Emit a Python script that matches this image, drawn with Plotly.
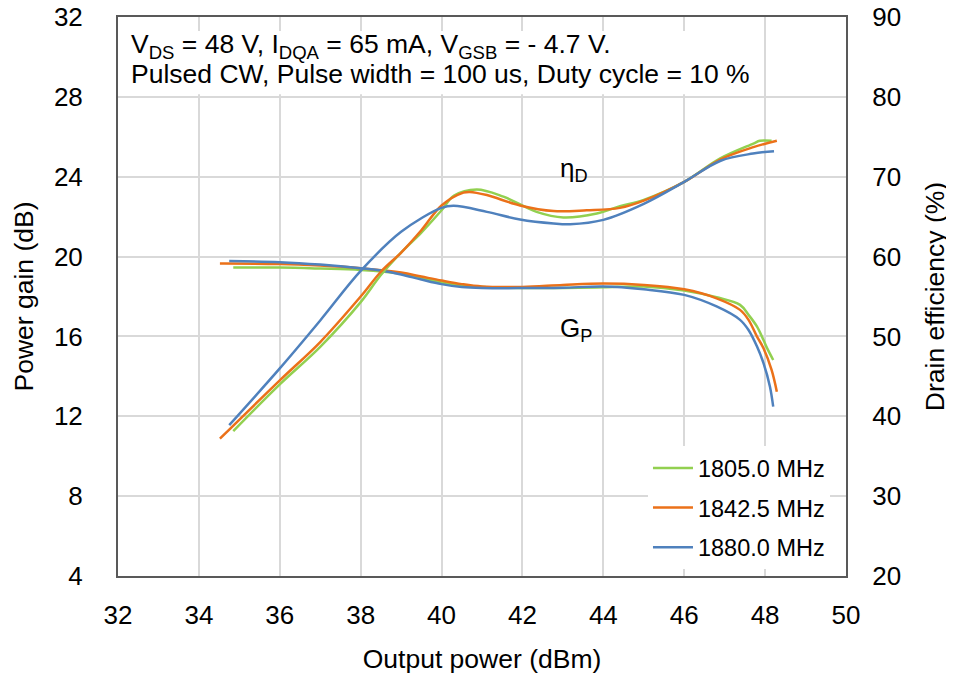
import plotly.graph_objects as go

# ---------------- data ----------------
freqs = ["1805.0 MHz", "1842.5 MHz", "1880.0 MHz"]
colors = ["#92D050", "#EB7119", "#4F81BD"]

# Power gain (dB) vs output power (dBm)
gain_x_1805 = [34.85, 36, 37, 38, 39, 39.5, 40, 40.5, 41, 42, 43, 44, 45, 46, 46.8, 47.38, 47.59, 47.8, 47.96, 48.04, 48.2]
gain_y_1805 = [19.45, 19.45, 19.4, 19.33, 19.15, 18.95, 18.7, 18.55, 18.47, 18.43, 18.43, 18.46, 18.5, 18.3, 17.96, 17.58, 17.08, 16.49, 15.82, 15.45, 14.82]

gain_x_1842 = [34.52, 36, 37, 38, 39, 39.5, 40, 40.5, 41, 42, 43, 44, 45, 46, 46.8, 47.38, 47.59, 47.8, 47.96, 48.16, 48.29]
gain_y_1842 = [19.65, 19.63, 19.55, 19.42, 19.2, 19.0, 18.8, 18.62, 18.5, 18.48, 18.58, 18.65, 18.58, 18.36, 17.91, 17.33, 16.83, 15.99, 15.41, 14.32, 13.23]

gain_x_1880 = [34.75, 36, 37, 38, 38.5, 39, 39.5, 40, 40.5, 41, 42, 43, 44, 45, 46, 46.8, 47.38, 47.59, 47.8, 47.96, 48.12, 48.2]
gain_y_1880 = [19.78, 19.72, 19.6, 19.42, 19.3, 19.1, 18.85, 18.62, 18.48, 18.43, 18.42, 18.44, 18.5, 18.36, 18.08, 17.5, 16.83, 16.32, 15.49, 14.66, 13.48, 12.48]

# Drain efficiency (%) vs output power (dBm)
eff_x_1805 = [34.85, 36, 37, 38, 38.5, 39, 39.5, 40, 40.3, 40.87, 41.53, 42.35, 43.01, 43.84, 44.41, 45, 46, 46.89, 47.71, 47.87, 48.16]
eff_y_1805 = [38.15, 44.0, 48.7, 54.3, 57.7, 60.5, 63.0, 65.8, 67.6, 68.4, 67.5, 65.6, 64.9, 65.4, 66.3, 67.1, 69.35, 72.3, 74.15, 74.5, 74.5]

eff_x_1842 = [34.52, 36, 37, 38, 38.5, 39, 39.5, 40, 40.54, 40.7, 41.12, 41.94, 42.77, 43.59, 44.41, 45, 46, 46.89, 47.71, 48.29]
eff_y_1842 = [37.2, 44.5, 49.3, 55.0, 58.1, 60.5, 63.3, 66.4, 68.0, 68.1, 67.7, 66.4, 65.7, 65.8, 66.1, 67.0, 69.35, 72.15, 73.7, 74.5]

eff_x_1880 = [34.75, 36, 37, 38, 39, 40, 40.3, 41.12, 41.94, 42.77, 43.18, 44.0, 45, 46, 46.9, 47.7, 48.22]
eff_y_1880 = [38.9, 46.0, 52.0, 58.2, 63.1, 66.1, 66.35, 65.6, 64.64, 64.14, 64.05, 64.6, 66.6, 69.35, 72.0, 72.9, 73.2]

x_ticks = [32, 34, 36, 38, 40, 42, 44, 46, 48, 50]
gain_ticks = [4, 8, 12, 16, 20, 24, 28, 32]
eff_ticks = [20, 30, 40, 50, 60, 70, 80, 90]

note_line1 = "V<sub>DS</sub> = 48 V, I<sub>DQA</sub> = 65 mA, V<sub>GSB</sub> = - 4.7 V."
note_line2 = "Pulsed CW, Pulse width = 100 us, Duty cycle = 10 %"

# ---------------- figure ----------------
FONT = "Arial, 'Liberation Sans', sans-serif"
fig = go.Figure()

gains = [(gain_x_1805, gain_y_1805), (gain_x_1842, gain_y_1842), (gain_x_1880, gain_y_1880)]
effs = [(eff_x_1805, eff_y_1805), (eff_x_1842, eff_y_1842), (eff_x_1880, eff_y_1880)]

for name, col, (gx, gy) in zip(freqs, colors, gains):
    fig.add_trace(go.Scatter(x=gx, y=gy, mode="lines", name=name, legendgroup=name,
                             line=dict(color=col, width=2.5, shape="spline", smoothing=1.0),
                             yaxis="y", showlegend=True))
for name, col, (ex, ey) in zip(freqs, colors, effs):
    fig.add_trace(go.Scatter(x=ex, y=ey, mode="lines", name=name, legendgroup=name,
                             line=dict(color=col, width=2.5, shape="spline", smoothing=1.0),
                             yaxis="y2", showlegend=False))

axis_font = dict(family=FONT, size=26, color="#000000")
title_font = dict(family=FONT, size=26.5, color="#000000")

# page body has an 8 px margin, so margins are offset to place the plot area
fig.update_layout(
    width=954, height=678,
    margin=dict(l=110, r=116, t=9, b=110, autoexpand=False),
    paper_bgcolor="white", plot_bgcolor="white",
    font=dict(family=FONT, size=26, color="#000000"),
    xaxis=dict(range=[32, 50], tickvals=x_ticks, ticktext=[str(v) for v in x_ticks],
               showgrid=True, gridcolor="#D9D9D9", gridwidth=1.5,
               showline=True, linecolor="#595959", linewidth=2, mirror=True,
               ticks="", ticklabelstandoff=15, tickfont=axis_font, zeroline=False,
               automargin=False, ticklabeloverflow="allow",
               title=dict(text="Output power (dBm)", font=title_font, standoff=20)),
    yaxis=dict(range=[4, 32], tickvals=gain_ticks, ticktext=[str(v) for v in gain_ticks],
               showgrid=True, gridcolor="#D9D9D9", gridwidth=1.5,
               showline=True, linecolor="#595959", linewidth=2, mirror=True,
               ticks="", ticklabelstandoff=28, tickfont=axis_font, zeroline=False,
               automargin=False, ticklabeloverflow="allow",
               title=dict(text="Power gain (dB)", font=title_font, standoff=13)),
    yaxis2=dict(range=[20, 90], tickvals=eff_ticks, ticktext=[str(v) for v in eff_ticks],
                overlaying="y", side="right", showgrid=False,
                showline=True, linecolor="#595959", linewidth=2,
                ticks="", ticklabelstandoff=19, tickfont=axis_font, zeroline=False,
                automargin=False, ticklabeloverflow="allow",
                title=dict(text="Drain efficiency (%)", font=title_font, standoff=25)),
    legend=dict(x=0.978, y=0.012, xanchor="right", yanchor="bottom",
                bgcolor="white", borderwidth=0,
                font=dict(family=FONT, size=23.5, color="#000000"),
                tracegroupgap=6, itemwidth=40),
    showlegend=True,
)

# white box behind the condition text (hides the grid there)
fig.add_shape(type="rect", xref="paper", yref="paper",
              x0=0.003, x1=0.878, y0=0.862, y1=0.975,
              fillcolor="white", line=dict(width=0), layer="above")

fig.add_annotation(x=0, y=1, xref="paper", yref="paper", xanchor="left", yanchor="top",
                   text=note_line1, showarrow=False, align="left",
                   font=title_font, borderpad=4, xshift=8, yshift=-7)
fig.add_annotation(x=0, y=1, xref="paper", yref="paper", xanchor="left", yanchor="top",
                   text=note_line2, showarrow=False, align="left",
                   font=title_font, borderpad=4, xshift=8, yshift=-37)
fig.add_annotation(x=43.28, y=70.9, xref="x", yref="y2", text="η<sub>D</sub>",
                   showarrow=False, font=axis_font)
fig.add_annotation(x=43.33, y=16.37, xref="x", yref="y", text="G<sub>P</sub>",
                   showarrow=False, font=axis_font)

fig.write_html("out.html")
